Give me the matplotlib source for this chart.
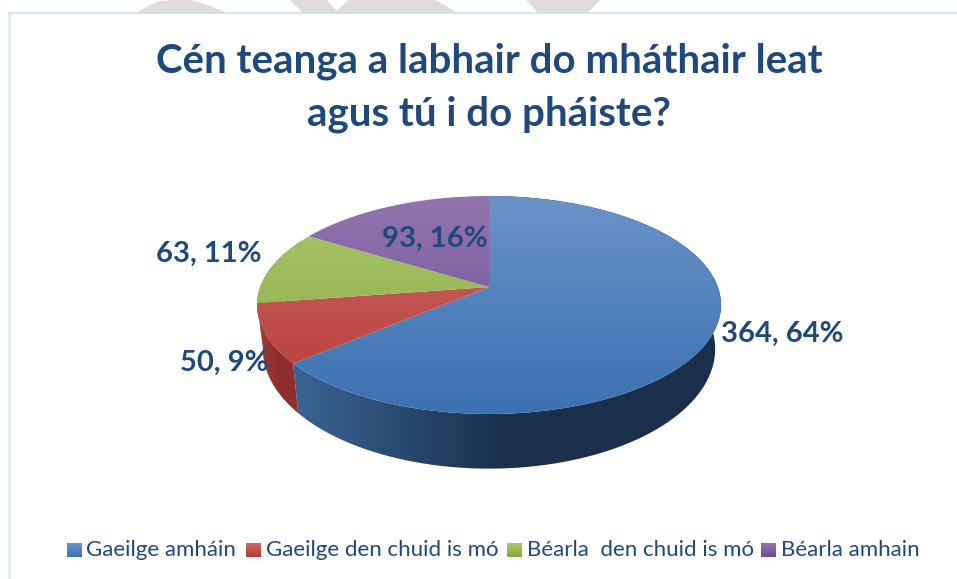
import numpy as np
import matplotlib
matplotlib.use('Agg')
import matplotlib.pyplot as plt
from matplotlib.patches import Polygon, Rectangle
from matplotlib.colors import LinearSegmentedColormap

categories = ['Gaeilge amháin', 'Gaeilge den chuid is mó', 'Béarla  den chuid is mó', 'Béarla amhain']
values = [364, 50, 63, 93]
percents = ['64%', '9%', '11%', '16%']
top_light = ['#6A93C8', '#CC6B68', '#AAC76F', '#9275AE']
top_dark = ['#3B70B1', '#B53935', '#88A83C', '#6E4A94']
side_left = ['#3A6495', '#A53E3A', '#7F9A3A', '#5F4180']
side_right = ['#1A2F4C', '#8F2E2B', '#6C8530', '#4F3569']
label_pos = [(782, 334), (224, 363), (209, 254), (435, 239)]
legend_x = [67, 246, 507, 761]
legend_text_x = [86, 266, 527, 781]

title_color = '#1F497D'
fonts = ['Lato', 'Noto Sans', 'DejaVu Sans']
W, H = 957, 579

fig = plt.figure(figsize=(W / 100, H / 100), dpi=100)
ax = fig.add_axes([0, 0, 1, 1])
ax.set_xlim(0, W)
ax.set_ylim(H, 0)
ax.axis('off')

# watermark behind the chart frame
gray = '#DDDDDD'
ax.add_patch(Polygon([(136, 13), (148, 6), (160, 1), (172, 0), (190, 0), (205, 4), (228, 13)], fc=gray, ec='none'))
ax.add_patch(Polygon([(290, 0), (327, 0), (337, 11), (348, 0), (435, 0), (445, 5), (457, 13), (303, 13)], fc=gray, ec='none'))
ax.add_patch(Polygon([(526, 0), (600, 0), (588, 13), (538, 13)], fc=gray, ec='none'))
ax.add_patch(Rectangle((9, 13), W, H, fc='white', ec='none'))
ax.plot([9.3, 9.3], [13, H], color='#DDE9F6', lw=1.9, solid_capstyle='butt')
ax.plot([8, W], [13, 13], color='#C8E0F6', lw=1.2, solid_capstyle='butt')

ax.text(489, 61, 'Cén teanga a labhair do mháthair leat', ha='center', va='center',
        fontsize=29, fontweight='bold', color=title_color, family=fonts)
ax.text(489, 114, 'agus tú i do pháiste?', ha='center', va='center',
        fontsize=29, fontweight='bold', color=title_color, family=fonts)

# tilted pie: circle -> perspective projection
apex_x, apex_y = 489, 287
A, B, K = 228.8, 106.0, 0.165


def project(theta, sx=1.0, sy=1.0, dy=0.0):
    u, v = np.sin(theta), np.cos(theta)
    d = 1 + K * v
    return apex_x + sx * A * u / d, apex_y + dy - sy * B * v / d


def gradient_fill(poly_pts, colors, vertical=True, extent=None, z=1):
    cmap = LinearSegmentedColormap.from_list('g', colors)
    grad = np.linspace(0, 1, 256)
    grad = grad[:, None] if vertical else grad[None, :]
    poly = Polygon(poly_pts, fc='none', ec='none', transform=ax.transData)
    ax.add_patch(poly)
    im = ax.imshow(grad, cmap=cmap, extent=extent, aspect='auto', zorder=z,
                   interpolation='bilinear', origin='upper')
    im.set_clip_path(poly)


fracs = np.cumsum([0] + values) / sum(values)

# side walls
for i in [3, 2, 1, 0]:
    t = np.linspace(fracs[i], fracs[i + 1], 240) * 2 * np.pi
    ux, uy = project(t)
    lx, ly = project(t, 0.975, 1.1, 42)
    pts = list(zip(ux, uy)) + list(zip(lx[::-1], ly[::-1]))
    ext = (292, 722, 480, 190) if i == 0 else (255, 300, 480, 190)
    gradient_fill(pts, [side_left[i], side_right[i], side_right[i]], vertical=False, extent=ext,
                  z=2 + (3 - i) * 0.1)

# top faces, gradient runs down the whole face
for i in range(4):
    t = np.linspace(fracs[i], fracs[i + 1], 240) * 2 * np.pi
    ux, uy = project(t)
    pts = [(apex_x, apex_y)] + list(zip(ux, uy))
    gradient_fill(pts, [top_light[i], top_dark[i]], vertical=True, extent=(250, 730, 415, 196), z=3)

ax.set_xlim(0, W)
ax.set_ylim(H, 0)

for i in range(4):
    ax.text(label_pos[i][0], label_pos[i][1], f'{values[i]}, {percents[i]}', ha='center', va='center',
            fontsize=21, fontweight='bold', color=title_color, family=fonts, zorder=5)

# legend
for i in range(4):
    gradient_fill([(legend_x[i], 543), (legend_x[i] + 14.5, 543), (legend_x[i] + 14.5, 557), (legend_x[i], 557)],
                  [top_light[i], top_dark[i]], vertical=True,
                  extent=(legend_x[i], legend_x[i] + 14.5, 557, 543), z=3)
    ax.text(legend_text_x[i], 550, categories[i], ha='left', va='center', fontsize=16,
            color=title_color, family=fonts, zorder=5)
ax.set_xlim(0, W)
ax.set_ylim(H, 0)

fig.savefig('out.png', dpi=100)
